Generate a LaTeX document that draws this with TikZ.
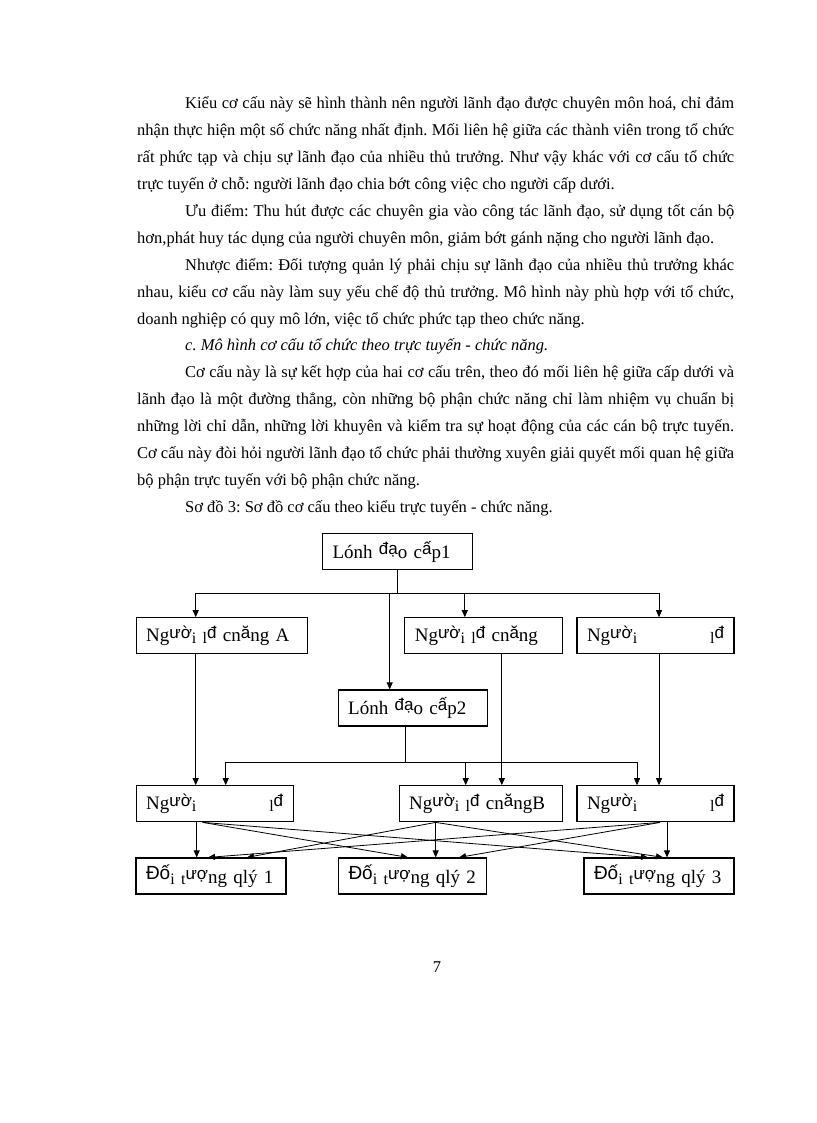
\documentclass[tikz,border=0pt]{standalone}
\usepackage{fontspec}
\setmainfont{Liberation Serif}
\setsansfont{Liberation Sans}
\usetikzlibrary{arrows.meta}
\frenchspacing
% broken glyphs of the box labels
\newcommand\hi[2][17]{\raisebox{0.2em}{\sffamily\fontsize{#1}{#1}\selectfont #2}}
\newcommand\lo[1]{\raisebox{-0.06em}{\fontsize{16}{16}\selectfont #1}}

\begin{document}
\begin{tikzpicture}[x=1pt,y=-1pt,
  txt/.style={anchor=base west, inner sep=0pt, font=\fontsize{16.5}{20}\selectfont},
  blk/.style={draw, line width=1.2pt, minimum height=36pt, inner xsep=10pt, inner ysep=0pt,
    text width=#1pt, align=left, font=\fontsize{19}{21}\selectfont},
  arr/.style={line width=0.8pt, -{Triangle[length=7pt,width=6pt]}},
  lin/.style={line width=0.8pt}]
\useasboundingbox (0,0) rectangle (816,1123);
% text above the chart
\node[txt] (p1a) at (185,109) {\makebox[549pt][s]{Kiểu cơ cấu này sẽ hình thành nên người lãnh đạo được chuyên môn hoá, chỉ đảm}};
\node[txt] (p1b) at (137,135.9) {\makebox[597pt][s]{nhận thực hiện một số chức năng nhất định. Mối liên hệ giữa các thành viên trong tổ chức}};
\node[txt] (p1c) at (137,162.7) {\makebox[597pt][s]{rất phức tạp và chịu sự lãnh đạo của nhiều thủ trưởng. Như vậy khác với cơ cấu tổ chức}};
\node[txt] (p1d) at (137,189.6) {trực tuyến ở chỗ: người lãnh đạo chia bớt công việc cho người cấp dưới.};
\node[txt] (p2a) at (185,216.5) {\makebox[549pt][s]{Ưu điểm: Thu hút được các chuyên gia vào công tác lãnh đạo, sử dụng tốt cán bộ}};
\node[txt] (p2b) at (137,243.4) {hơn,phát huy tác dụng của người chuyên môn, giảm bớt gánh nặng cho người lãnh đạo.};
\node[txt] (p3a) at (185,270.2) {\makebox[549pt][s]{Nhược điểm: Đối tượng quản lý phải chịu sự lãnh đạo của nhiều thủ trưởng khác}};
\node[txt] (p3b) at (137,297.1) {\makebox[597pt][s]{nhau, kiểu cơ cấu này làm suy yếu chế độ thủ trưởng. Mô hình này phù hợp với tổ chức,}};
\node[txt] (p3c) at (137,324) {doanh nghiệp có quy mô lớn, việc tổ chức phức tạp theo chức năng.};
\node[txt, font=\fontsize{16.5}{20}\selectfont\itshape] (hd) at (185,350.8) {c. Mô hình cơ cấu tổ chức theo trực tuyến - chức năng.};
\node[txt] (p4a) at (185,377.7) {\makebox[549pt][s]{Cơ cấu này là sự kết hợp của hai cơ cấu trên, theo đó mối liên hệ giữa cấp dưới và}};
\node[txt] (p4b) at (137,404.6) {\makebox[597pt][s]{lãnh đạo là một đường thẳng, còn những bộ phận chức năng chỉ làm nhiệm vụ chuẩn bị}};
\node[txt] (p4c) at (137,431.4) {\makebox[597pt][s]{những lời chỉ dẫn, những lời khuyên và kiểm tra sự hoạt động của các cán bộ trực tuyến.}};
\node[txt] (p4d) at (137,458.3) {\makebox[597pt][s]{Cơ cấu này đòi hỏi người lãnh đạo tổ chức phải thường xuyên giải quyết mối quan hệ giữa}};
\node[txt] (p4e) at (137,485.2) {bộ phận trực tuyến với bộ phận chức năng.};
\node[txt] (cap) at (185,512) {Sơ đồ 3: Sơ đồ cơ cấu theo kiểu trực tuyến - chức năng.};

% boxes
\node[blk=130] (lead1) at (397.5,551.7) {Lónh \hi{đạ}o c\hi{ấ}p1};
\node[blk=151] (fa) at (221.7,635.8) {Ng\hi{ườ}\lo{i} \lo{l}\hi{đ} cn\hi{ă}ng A};
\node[blk=138] (fb) at (483.8,635.8) {Ng\hi{ườ}\lo{i} \lo{l}\hi{đ} cn\hi{ă}ng};
\node[blk=137] (fc) at (655.5,635.8) {Ng\hi{ườ}\lo{i}\hfill\lo{l}\hi{đ}};
\node[blk=129] (lead2) at (412.7,708) {Lónh \hi{đạ}o c\hi{ấ}p2};
\node[blk=137] (r2a) at (214.7,803.8) {Ng\hi{ườ}\lo{i}\hfill\lo{l}\hi{đ}};
\node[blk=143] (r2b) at (480.7,803.8) {Ng\hi{ườ}\lo{i} \lo{l}\hi{đ} cn\hi{ă}ngB};
\node[blk=137] (r2c) at (655.5,803.8) {Ng\hi{ườ}\lo{i}\hfill\lo{l}\hi{đ}};
\node[blk=130] (o1) at (211,876) {\hi[19]{Đố}\lo{i} \lo{t}\hi{ượ}ng qlý 1};
\node[blk=128] (o2) at (412.5,876) {\hi[19]{Đố}\lo{i} \lo{t}\hi{ượ}ng qlý 2};
\node[blk=130] (o3) at (659,876) {\hi[19]{Đố}\lo{i} \lo{t}\hi{ượ}ng qlý 3};

% upper bus
\draw[lin] (lead1.south) -- ++(0,23.3) coordinate (b1);
\draw[arr] (b1) -| ([xshift=-26pt]fa.north);
\draw[arr] (b1) -| ([xshift=-19pt]fb.north);
\draw[arr] (b1) -| ([xshift=3.5pt]fc.north);
\draw[arr] (b1) -| ([xshift=-23pt]lead2.north);
% lower bus
\draw[lin] ([xshift=-7pt]lead2.south) -- ++(0,35.7) coordinate (b2);
\draw[arr] (b2) -| ([xshift=11pt]r2a.north);
\draw[arr] (b2) -| ([xshift=-15pt]r2b.north);
\draw[arr] (b2) -| ([xshift=-18.5pt]r2c.north);
\draw[arr] ([xshift=-26pt]fa.south) -- ([xshift=-19pt]r2a.north);
\draw[arr] ([xshift=18pt]fb.south) -- ([xshift=21.1pt]r2b.north);
\draw[arr] ([xshift=3.5pt]fc.south) -- ([xshift=3.5pt]r2c.north);
% to the managed objects
\draw[arr] ([xshift=-18pt]r2a.south) -- ([xshift=-14.3pt]o1.north);
\draw[arr] ([xshift=-12pt]r2a.south) -- ([xshift=-4.5pt]o2.north);
\draw[arr] ([xshift=-12pt]r2a.south) -- ([xshift=-11pt]o3.north);
\draw[arr] ([xshift=-45pt]r2b.south) -- ([xshift=36pt]o1.north);
\draw[arr] ([xshift=-45pt]r2b.south) -- ([xshift=23.2pt]o2.north);
\draw[arr] ([xshift=-45pt]r2b.south) -- ([xshift=4pt]o3.north);
\draw[arr] ([xshift=4.5pt]r2c.south) -- ([xshift=-3pt]o1.north);
\draw[arr] ([xshift=4.5pt]r2c.south) -- ([xshift=46.5pt]o2.north);
\draw[arr] ([xshift=11.5pt]r2c.south) -- ([xshift=8pt]o3.north);

\node[font=\fontsize{16.5}{20}\selectfont] (pg) at (437,967) {7};
\end{tikzpicture}
\end{document}
